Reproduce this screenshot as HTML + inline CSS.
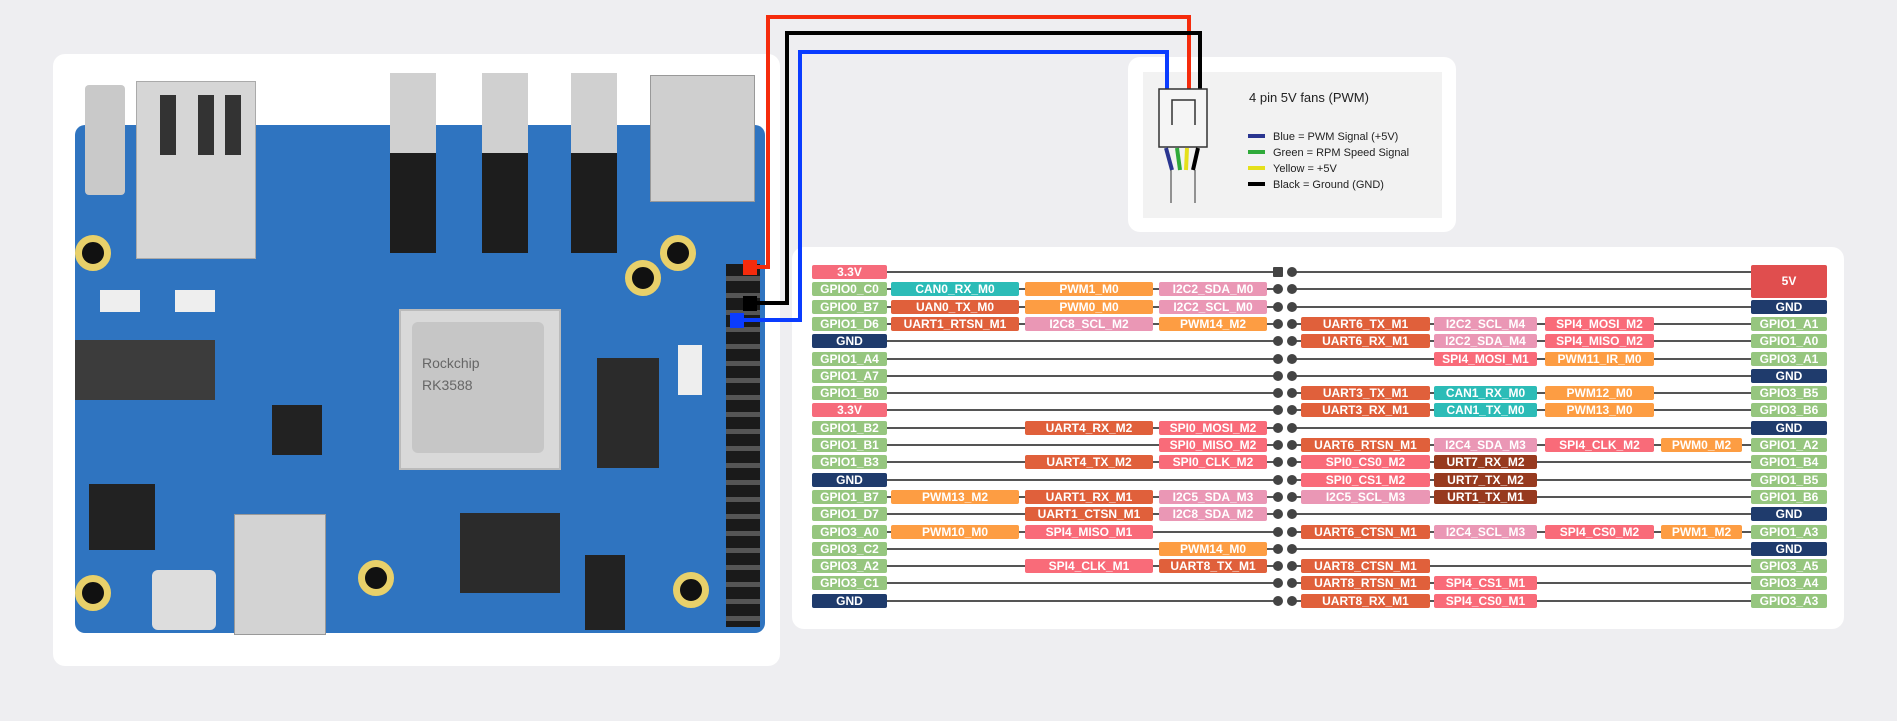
<!DOCTYPE html>
<html><head><meta charset="utf-8">
<style>
body{margin:0;width:1897px;height:721px;background:#eeeef1;position:relative;overflow:hidden;font-family:"Liberation Sans",sans-serif}
.card{position:absolute;background:#fff;border-radius:12px}
.x{position:absolute}
.r{position:absolute;left:0;width:1897px;height:14px}
.r:before{content:"";position:absolute;left:887px;width:391px;top:6px;height:2px;background:#555}
.r:after{content:"";position:absolute;left:1292px;width:459px;top:6px;height:2px;background:#555}
.p1,.p2{position:absolute;top:2px;width:10px;height:10px;border-radius:50%;background:#444;z-index:2}
.p1{left:1273px}.p2{left:1287px}
.t{position:absolute;top:0;height:14px;line-height:14px;color:#fff;font-weight:bold;font-size:12px;text-align:center;border-radius:2px;z-index:2;white-space:nowrap;overflow:hidden}
.L{left:812px;width:75px}.a{left:891px;width:128px}.b{left:1025px;width:128px}.c{left:1159px;width:108px}
.d{left:1301px;width:129px}.e{left:1434px;width:103px}.f{left:1545px;width:109px}.g{left:1661px;width:81px}.R{left:1751px;width:76px}
.gr{background:#96c67f}.nv{background:#1f3b6c}.pw{background:#f66b7b}.tl{background:#2cbcb7}.or{background:#fd9d43}
.ua{background:#e0603b}.pk{background:#ea97b5}.sp{background:#f96b79}.br{background:#973a1f}
</style></head><body>

<!-- cards -->
<div class="card" style="left:53px;top:54px;width:727px;height:612px"></div>
<div class="card" style="left:1128px;top:57px;width:328px;height:175px"></div>
<div class="x" style="left:1143px;top:72px;width:299px;height:146px;background:#f2f2f2"></div>
<div class="card" style="left:792px;top:247px;width:1052px;height:382px"></div>

<!-- board -->
<div class="x" style="left:75px;top:125px;width:690px;height:508px;background:#2f74c0;border-radius:10px"></div>
<div class="x" style="left:85px;top:85px;width:40px;height:110px;background:#c9c9c9;border-radius:4px"></div>
<div class="x" style="left:136px;top:81px;width:118px;height:176px;background:#d6d6d6;border:1px solid #aaa"></div>
<div class="x" style="left:160px;top:95px;width:16px;height:60px;background:#333"></div>
<div class="x" style="left:198px;top:95px;width:16px;height:60px;background:#333"></div>
<div class="x" style="left:225px;top:95px;width:16px;height:60px;background:#333"></div>
<div class="x" style="left:390px;top:73px;width:46px;height:80px;background:#d0d0d0"></div>
<div class="x" style="left:390px;top:153px;width:46px;height:100px;background:#1d1d1d"></div>
<div class="x" style="left:482px;top:73px;width:46px;height:80px;background:#d0d0d0"></div>
<div class="x" style="left:482px;top:153px;width:46px;height:100px;background:#1d1d1d"></div>
<div class="x" style="left:571px;top:73px;width:46px;height:80px;background:#d0d0d0"></div>
<div class="x" style="left:571px;top:153px;width:46px;height:100px;background:#1d1d1d"></div>
<div class="x" style="left:650px;top:75px;width:103px;height:125px;background:#cfcfcf;border:1px solid #999"></div>
<div class="x" style="left:399px;top:309px;width:158px;height:157px;background:#d9d9d9;border:2px solid #bbb"></div>
<div class="x" style="left:412px;top:322px;width:132px;height:131px;background:#c6c6c6;border-radius:6px;color:#666;font-size:14px;line-height:22px;padding:30px 10px;box-sizing:border-box">Rockchip<br>RK3588</div>
<div class="x" style="left:597px;top:358px;width:62px;height:110px;background:#2b2b2b"></div>
<div class="x" style="left:460px;top:513px;width:100px;height:80px;background:#2b2b2b"></div>
<div class="x" style="left:89px;top:484px;width:66px;height:66px;background:#222"></div>
<div class="x" style="left:272px;top:405px;width:50px;height:50px;background:#222"></div>
<div class="x" style="left:75px;top:340px;width:140px;height:60px;background:#3c3c3c"></div>
<div class="x" style="left:234px;top:514px;width:90px;height:119px;background:#d3d3d3;border:1px solid #999"></div>
<div class="x" style="left:152px;top:570px;width:64px;height:60px;background:#ddd;border-radius:6px"></div>
<div class="x" style="left:585px;top:555px;width:40px;height:75px;background:#222"></div>
<div class="x" style="left:100px;top:290px;width:40px;height:22px;background:#eee"></div>
<div class="x" style="left:175px;top:290px;width:40px;height:22px;background:#eee"></div>
<div class="x" style="left:678px;top:345px;width:24px;height:50px;background:#eee"></div>
<div class="x" style="left:75px;top:235px;width:36px;height:36px;border-radius:50%;background:#111;border:7px solid #e8d06a;box-sizing:border-box"></div>
<div class="x" style="left:660px;top:235px;width:36px;height:36px;border-radius:50%;background:#111;border:7px solid #e8d06a;box-sizing:border-box"></div>
<div class="x" style="left:625px;top:260px;width:36px;height:36px;border-radius:50%;background:#111;border:7px solid #e8d06a;box-sizing:border-box"></div>
<div class="x" style="left:75px;top:575px;width:36px;height:36px;border-radius:50%;background:#111;border:7px solid #e8d06a;box-sizing:border-box"></div>
<div class="x" style="left:358px;top:560px;width:36px;height:36px;border-radius:50%;background:#111;border:7px solid #e8d06a;box-sizing:border-box"></div>
<div class="x" style="left:673px;top:572px;width:36px;height:36px;border-radius:50%;background:#111;border:7px solid #e8d06a;box-sizing:border-box"></div>
<div class="x" style="left:726px;top:264px;width:34px;height:363px;background:repeating-linear-gradient(#1a1a1a 0 12px,#555 12px 17px)"></div>
<div class="x" style="left:743px;top:260px;width:14px;height:15px;background:#f52b0c"></div>
<div class="x" style="left:743px;top:296px;width:14px;height:15px;background:#000"></div>
<div class="x" style="left:730px;top:313px;width:14px;height:15px;background:#0a3cff"></div>

<!-- wires -->
<svg class="x" style="left:0;top:0" width="1897" height="721">
<polyline points="756,267 768,267 768,17 1189,17 1189,90" fill="none" stroke="#f52b0c" stroke-width="4"/>
<polyline points="752,303 787,303 787,33 1200,33 1200,90" fill="none" stroke="#000" stroke-width="4"/>
<polyline points="742,320 800,320 800,52 1167,52 1167,90" fill="none" stroke="#0a3cff" stroke-width="4"/>
<rect x="1159" y="89" width="48" height="58" fill="#f5f5f5" stroke="#333" stroke-width="1.5"/>
<polyline points="1172,125 1172,100 1195,100 1195,125" fill="none" stroke="#333" stroke-width="1.5"/>
<line x1="1166" y1="148" x2="1172" y2="170" stroke="#2a3590" stroke-width="4"/>
<line x1="1177" y1="148" x2="1180" y2="170" stroke="#2faa3a" stroke-width="4"/>
<line x1="1187" y1="148" x2="1186" y2="170" stroke="#e5e01a" stroke-width="4"/>
<line x1="1198" y1="148" x2="1193" y2="170" stroke="#000" stroke-width="4"/>
<line x1="1171" y1="170" x2="1171" y2="203" stroke="#333"/>
<line x1="1195" y1="170" x2="1195" y2="203" stroke="#333"/>
<text x="1249" y="102" font-family="Liberation Sans" font-size="13" fill="#222">4 pin 5V fans (PWM)</text>
<rect x="1248" y="134" width="17" height="4" fill="#2a3590"/>
<rect x="1248" y="150" width="17" height="4" fill="#2faa3a"/>
<rect x="1248" y="166" width="17" height="4" fill="#e5e01a"/>
<rect x="1248" y="182" width="17" height="4" fill="#000"/>
<g font-family="Liberation Sans" font-size="11" fill="#222">
<text x="1273" y="140">Blue = PWM Signal (+5V)</text>
<text x="1273" y="156">Green = RPM Speed Signal</text>
<text x="1273" y="172">Yellow = +5V</text>
<text x="1273" y="188">Black = Ground (GND)</text>
</g>
</svg>

<!-- pin table -->
<div class="r" style="top:265px"><div class="t L pw">3.3V</div><div class="p1" style="border-radius:1px"></div><div class="p2"></div></div>
<div class="r" style="top:282px"><div class="t L gr">GPIO0_C0</div><div class="t a tl">CAN0_RX_M0</div><div class="t b or">PWM1_M0</div><div class="t c pk">I2C2_SDA_M0</div><div class="p1"></div><div class="p2"></div></div>
<div class="r" style="top:300px"><div class="t L gr">GPIO0_B7</div><div class="t a ua">UAN0_TX_M0</div><div class="t b or">PWM0_M0</div><div class="t c pk">I2C2_SCL_M0</div><div class="p1"></div><div class="p2"></div><div class="t R nv">GND</div></div>
<div class="r" style="top:317px"><div class="t L gr">GPIO1_D6</div><div class="t a ua">UART1_RTSN_M1</div><div class="t b pk">I2C8_SCL_M2</div><div class="t c or">PWM14_M2</div><div class="p1"></div><div class="p2"></div><div class="t d ua">UART6_TX_M1</div><div class="t e pk">I2C2_SCL_M4</div><div class="t f sp">SPI4_MOSI_M2</div><div class="t R gr">GPIO1_A1</div></div>
<div class="r" style="top:334px"><div class="t L nv">GND</div><div class="p1"></div><div class="p2"></div><div class="t d ua">UART6_RX_M1</div><div class="t e pk">I2C2_SDA_M4</div><div class="t f sp">SPI4_MISO_M2</div><div class="t R gr">GPIO1_A0</div></div>
<div class="r" style="top:352px"><div class="t L gr">GPIO1_A4</div><div class="p1"></div><div class="p2"></div><div class="t e sp">SPI4_MOSI_M1</div><div class="t f or">PWM11_IR_M0</div><div class="t R gr">GPIO3_A1</div></div>
<div class="r" style="top:369px"><div class="t L gr">GPIO1_A7</div><div class="p1"></div><div class="p2"></div><div class="t R nv">GND</div></div>
<div class="r" style="top:386px"><div class="t L gr">GPIO1_B0</div><div class="p1"></div><div class="p2"></div><div class="t d ua">UART3_TX_M1</div><div class="t e tl">CAN1_RX_M0</div><div class="t f or">PWM12_M0</div><div class="t R gr">GPIO3_B5</div></div>
<div class="r" style="top:403px"><div class="t L pw">3.3V</div><div class="p1"></div><div class="p2"></div><div class="t d ua">UART3_RX_M1</div><div class="t e tl">CAN1_TX_M0</div><div class="t f or">PWM13_M0</div><div class="t R gr">GPIO3_B6</div></div>
<div class="r" style="top:421px"><div class="t L gr">GPIO1_B2</div><div class="t b ua">UART4_RX_M2</div><div class="t c sp">SPI0_MOSI_M2</div><div class="p1"></div><div class="p2"></div><div class="t R nv">GND</div></div>
<div class="r" style="top:438px"><div class="t L gr">GPIO1_B1</div><div class="t c sp">SPI0_MISO_M2</div><div class="p1"></div><div class="p2"></div><div class="t d ua">UART6_RTSN_M1</div><div class="t e pk">I2C4_SDA_M3</div><div class="t f sp">SPI4_CLK_M2</div><div class="t g or">PWM0_M2</div><div class="t R gr">GPIO1_A2</div></div>
<div class="r" style="top:455px"><div class="t L gr">GPIO1_B3</div><div class="t b ua">UART4_TX_M2</div><div class="t c sp">SPI0_CLK_M2</div><div class="p1"></div><div class="p2"></div><div class="t d sp">SPI0_CS0_M2</div><div class="t e br">URT7_RX_M2</div><div class="t R gr">GPIO1_B4</div></div>
<div class="r" style="top:473px"><div class="t L nv">GND</div><div class="p1"></div><div class="p2"></div><div class="t d sp">SPI0_CS1_M2</div><div class="t e br">URT7_TX_M2</div><div class="t R gr">GPIO1_B5</div></div>
<div class="r" style="top:490px"><div class="t L gr">GPIO1_B7</div><div class="t a or">PWM13_M2</div><div class="t b ua">UART1_RX_M1</div><div class="t c pk">I2C5_SDA_M3</div><div class="p1"></div><div class="p2"></div><div class="t d pk">I2C5_SCL_M3</div><div class="t e br">URT1_TX_M1</div><div class="t R gr">GPIO1_B6</div></div>
<div class="r" style="top:507px"><div class="t L gr">GPIO1_D7</div><div class="t b ua">UART1_CTSN_M1</div><div class="t c pk">I2C8_SDA_M2</div><div class="p1"></div><div class="p2"></div><div class="t R nv">GND</div></div>
<div class="r" style="top:525px"><div class="t L gr">GPIO3_A0</div><div class="t a or">PWM10_M0</div><div class="t b sp">SPI4_MISO_M1</div><div class="p1"></div><div class="p2"></div><div class="t d ua">UART6_CTSN_M1</div><div class="t e pk">I2C4_SCL_M3</div><div class="t f sp">SPI4_CS0_M2</div><div class="t g or">PWM1_M2</div><div class="t R gr">GPIO1_A3</div></div>
<div class="r" style="top:542px"><div class="t L gr">GPIO3_C2</div><div class="t c or">PWM14_M0</div><div class="p1"></div><div class="p2"></div><div class="t R nv">GND</div></div>
<div class="r" style="top:559px"><div class="t L gr">GPIO3_A2</div><div class="t b sp">SPI4_CLK_M1</div><div class="t c ua">UART8_TX_M1</div><div class="p1"></div><div class="p2"></div><div class="t d ua">UART8_CTSN_M1</div><div class="t R gr">GPIO3_A5</div></div>
<div class="r" style="top:576px"><div class="t L gr">GPIO3_C1</div><div class="p1"></div><div class="p2"></div><div class="t d ua">UART8_RTSN_M1</div><div class="t e sp">SPI4_CS1_M1</div><div class="t R gr">GPIO3_A4</div></div>
<div class="r" style="top:594px"><div class="t L nv">GND</div><div class="p1"></div><div class="p2"></div><div class="t d ua">UART8_RX_M1</div><div class="t e sp">SPI4_CS0_M1</div><div class="t R gr">GPIO3_A3</div></div>
<div class="t" style="left:1751px;top:265px;width:76px;height:33px;line-height:33px;background:#e04e4e">5V</div>

</body></html>
